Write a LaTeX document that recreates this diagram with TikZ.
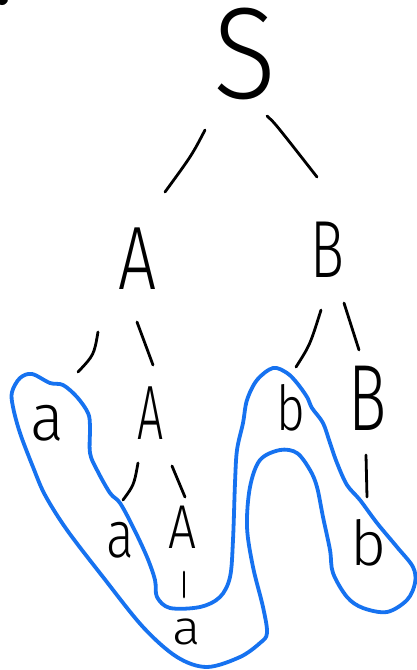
\documentclass[tikz,border=0pt]{standalone}
\usepackage{fontspec}
\IfFontExistsTF{Fira Sans Light}
  {\newfontfamily\hand{Fira Sans Light}}
  {\IfFontExistsTF{FiraSans-Light.otf}
    {\newfontfamily\hand{FiraSans-Light.otf}}
    {\newfontfamily\hand{Fira Sans}}}
% letter of given size and horizontal squeeze
\newcommand\glyph[3]{\scalebox{#2}[1]{\fontsize{#1}{#1}\selectfont\hand #3}}
\definecolor{penblue}{RGB}{22,114,240}
\tikzset{
  sym/.style={inner sep=0pt, outer sep=0pt},
  branch/.style={line width=2.8pt, line cap=round},
  outline/.style={draw=penblue, line width=3.8pt, line join=round}
}
\begin{document}
\begin{tikzpicture}[x=1pt, y=-1pt]
\useasboundingbox (0,0) rectangle (416,670);
\fill[white] (0,0) rectangle (416,670);
% ink blot in the corner
\fill (2,-1) circle (6);

% symbols
\node[sym] (S)  at (245,54)  {\glyph{130}{0.9}{S}};
\node[sym] (A1) at (138,259) {\glyph{90}{0.75}{A}};
\node[sym] (B1) at (327,250) {\glyph{81}{0.7}{B}};
\node[sym] (a1) at (47,423)  {\glyph{66}{0.95}{a}};
\node[sym] (A2) at (151,413) {\glyph{77}{0.6}{A}};
\node[sym] (b1) at (291,408) {\glyph{62}{0.8}{b}};
\node[sym] (B2) at (368,398) {\glyph{94}{0.68}{B}};
\node[sym] (a2) at (120,540) {\glyph{66}{0.78}{a}};
\node[sym] (A3) at (183,527) {\glyph{62}{0.8}{A}};
\node[sym] (a3) at (187,632) {\glyph{48}{1.1}{a}};
\node[sym] (b2) at (369,543) {\glyph{62}{1.0}{b}};

% branch strokes
\coordinate (sa1) at (205,130); \coordinate (sa2) at (165,192);
\coordinate (sb1) at (267,116); \coordinate (sb2) at (317,177);
\coordinate (al1) at (98,332);  \coordinate (al2) at (78,372);
\coordinate (ar1) at (137,322); \coordinate (ar2) at (153,365);
\coordinate (bl1) at (321,310); \coordinate (bl2) at (296,367);
\coordinate (br1) at (344,303); \coordinate (br2) at (359,350);
\coordinate (cl1) at (138,463); \coordinate (cl2) at (123,500);
\coordinate (cr1) at (172,466); \coordinate (cr2) at (185,497);
\coordinate (d1)  at (184,572); \coordinate (d2)  at (184,597);
\coordinate (e1)  at (366,455); \coordinate (e2)  at (367,497);
\draw[branch] (sa1) .. controls (192,155) .. (sa2);
\draw[branch] (sb1) .. controls (274,122) .. (sb2);
\draw[branch] (al1) .. controls (94,355) .. (al2);
\draw[branch] (ar1) -- (ar2);
\draw[branch] (bl1) .. controls (310,345) .. (bl2);
\draw[branch] (br1) -- (br2);
\draw[branch] (cl1) .. controls (134,485) .. (cl2);
\draw[branch] (cr1) -- (cr2);
\draw[branch] (d1) -- (d2);
\draw[branch] (e1) -- (e2);

% blue enclosure
\draw[outline] plot[smooth cycle, tension=0.55] coordinates {
 (12,392) (20,378) (32,374) (50,383) (63,385) (77,397) (88,413) (90,427)
 (90,453) (97,470) (110,493) (120,503) (133,527) (147,557) (155,580)
 (157,597) (170,608) (200,607) (220,597) (230,577) (233,540) (235,483)
 (237,450) (243,423) (247,400) (257,380) (273,368) (287,373) (297,383)
 (307,397) (312,408) (323,423) (330,443) (337,463) (347,485) (360,500)
 (377,523) (397,547) (413,567) (415,583) (407,600) (387,612) (363,608)
 (347,597) (333,573) (330,550) (323,517) (317,487) (310,470) (297,453)
 (280,450) (260,460) (250,487) (247,527) (253,567) (263,607) (267,633)
 (260,643) (240,657) (207,667) (177,657) (143,627) (103,577) (67,530)
 (45,495) (33,467) (20,433) (13,407)};
\end{tikzpicture}
\end{document}
